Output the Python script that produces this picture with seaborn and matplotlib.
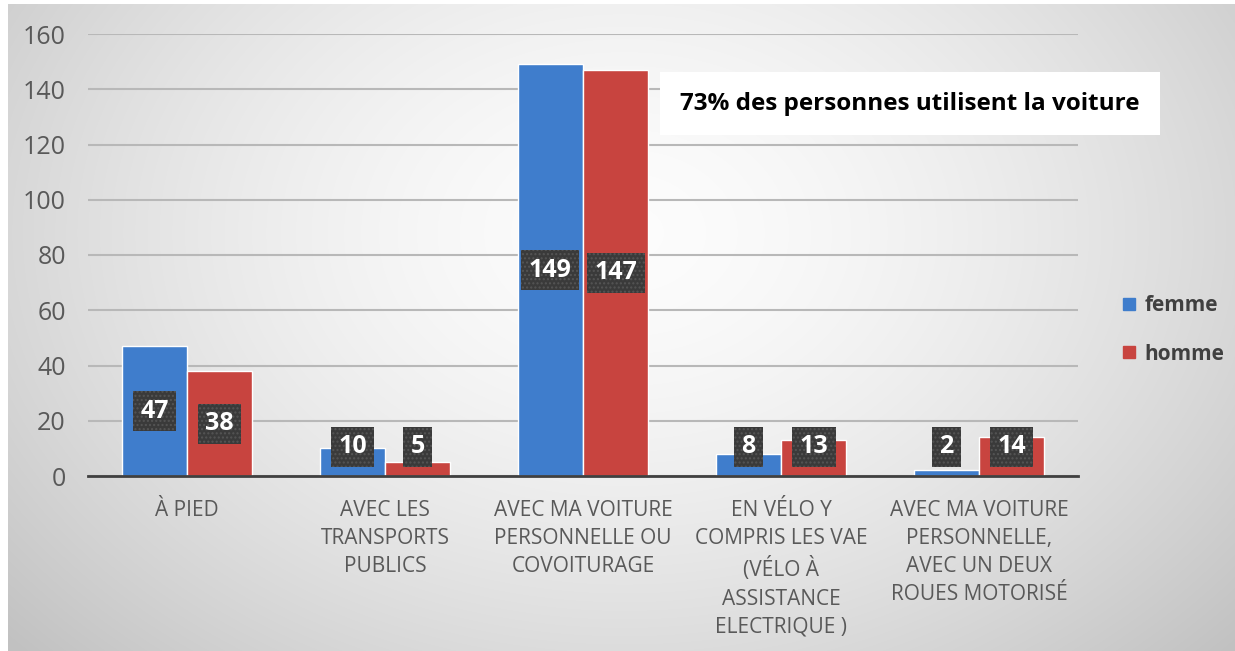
import numpy as np
import pandas as pd
import seaborn as sns
import matplotlib.pyplot as plt
from matplotlib.patches import Rectangle
from matplotlib.lines import Line2D

categories = ["À PIED",
              "AVEC LES\nTRANSPORTS\nPUBLICS",
              "AVEC MA VOITURE\nPERSONNELLE OU\nCOVOITURAGE",
              "EN VÉLO Y\nCOMPRIS LES VAE\n(VÉLO À\nASSISTANCE\nELECTRIQUE )",
              "AVEC MA VOITURE\nPERSONNELLE,\nAVEC UN DEUX\nROUES MOTORISÉ"]
femme = [47, 10, 149, 8, 2]
homme = [38, 5, 147, 13, 14]
series = ["femme", "homme"]
colors = ["#3f7dcc", "#c8443f"]
y_ticks = [0, 20, 40, 60, 80, 100, 120, 140, 160]
note = "73% des personnes utilisent la voiture"

df = pd.DataFrame({
    "cat": categories * 2,
    "sexe": ["femme"] * len(categories) + ["homme"] * len(categories),
    "val": femme + homme,
})

sns.set_style("white")
plt.rcParams["font.family"] = ["Open Sans", "DejaVu Sans"]

W, H = 1235, 651
fig = plt.figure(figsize=(W / 100, H / 100), dpi=100)

# radial grey background
bg = fig.add_axes([0, 0, 1, 1])
yy, xx = np.mgrid[0:H, 0:W]
r = np.sqrt(((xx - 620) / 760.0) ** 2 + ((yy - 230) / 560.0) ** 2)
shade = np.clip(0.99 - 0.2 * r ** 1.6, 0.76, 1)
bg.imshow(np.dstack([shade] * 3), extent=(8, W, H, 4), aspect="auto")
bg.set_xlim(0, W)
bg.set_ylim(H, 0)
bg.axis("off")

left, right = 88 / W, 1078 / W
bottom, top = 1 - 476 / H, 1 - 34 / H
ax = fig.add_axes([left, bottom, right - left, top - bottom])
ax.patch.set_alpha(0)

sns.barplot(data=df, x="cat", y="val", hue="sexe", palette=colors,
            width=0.66, ax=ax, legend=False, saturation=1, zorder=3)

ax.set_ylim(0, 160)
ax.set_xlim(-0.5, len(categories) - 0.5)
ax.set_yticks(y_ticks)
ax.yaxis.grid(True, color="#b8b8b8", linewidth=1.5, zorder=0)
ax.set_axisbelow(True)
for s in ["top", "right", "left"]:
    ax.spines[s].set_visible(False)
ax.spines["bottom"].set_color("#404040")
ax.spines["bottom"].set_linewidth(2)
ax.spines["bottom"].set_zorder(4)
ax.set_xlabel("")
ax.set_ylabel("")
ax.tick_params(axis="y", length=0, pad=16, labelsize=18, labelcolor="#595959")
ax.tick_params(axis="x", which="major", length=0, pad=17, labelsize=15,
               labelcolor="#595959")
ax.set_xticks(range(len(categories)))
ax.set_xticklabels(categories, linespacing=1.45, va="top")
ax.set_xticks(np.arange(-0.5, len(categories)), minor=True)
ax.tick_params(axis="x", which="minor", length=8, width=2, color="#404040")

# data labels
bw = 0.66 / 2
for i in range(len(categories)):
    for j, vals in enumerate([femme, homme]):
        v = vals[i]
        x = i - bw / 2 + j * bw
        ax.text(x, max(v / 2, 10.5), str(v), ha="center", va="center",
                color="white", fontsize=18, fontweight="bold", zorder=6,
                bbox=dict(boxstyle="square,pad=0.3", fc="#3a3a3a",
                          ec="#555555", lw=0, hatch="...."))

# legend
handles = [Line2D([], [], marker="s", ls="", markersize=9, color=c) for c in colors]
fig.legend(handles, series, loc="center left",
           bbox_to_anchor=(1112 / W, 1 - 330 / H), frameon=False,
           prop={"size": 15, "weight": "bold"}, labelcolor="#404040",
           handlelength=0.8, handletextpad=0.35, labelspacing=1.3,
           borderaxespad=0)

# note box
ov = fig.add_axes([0, 0, 1, 1])
ov.set_xlim(0, W)
ov.set_ylim(H, 0)
ov.axis("off")
ov.patch.set_alpha(0)
ov.add_patch(Rectangle((660, 72), 500, 63, fc="white", ec="none"))
ov.text(680, 104, note, ha="left", va="center", fontsize=17.5,
        fontweight="bold", color="black")

fig.savefig("out.png", dpi=100)
